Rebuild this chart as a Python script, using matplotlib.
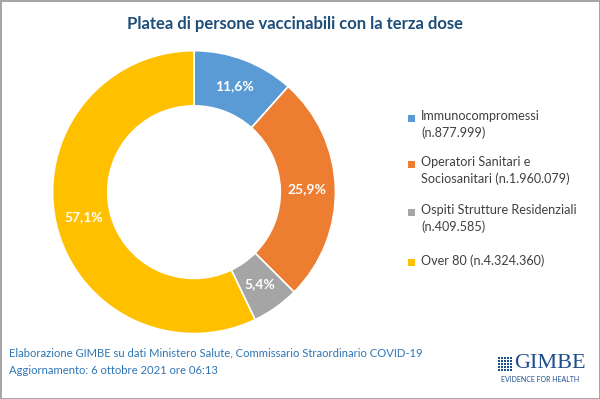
import matplotlib
matplotlib.use("Agg")
import matplotlib.pyplot as plt
from matplotlib.patches import Rectangle

plt.rcParams['font.family'] = ['Lato', 'DejaVu Sans']

# dati
categorie = ["Immunocompromessi\n(n.877.999)",
             "Operatori Sanitari e\nSociosanitari (n.1.960.079)",
             "Ospiti Strutture Residenziali\n(n.409.585)",
             "Over 80 (n.4.324.360)"]
valori = [877999, 1960079, 409585, 4324360]
colori = ["#5B9BD5", "#ED7D31", "#A5A5A5", "#FFC000"]

titolo = "Platea di persone vaccinabili con la terza dose"
nota1 = "Elaborazione GIMBE su dati Ministero Salute, Commissario Straordinario COVID-19"
nota2 = "Aggiornamento: 6 ottobre 2021 ore 06:13"

fig = plt.figure(figsize=(6, 3.99), dpi=100)
fig.patch.set_facecolor("white")
fig.patch.set_edgecolor("#A6A6A6")
fig.patch.set_linewidth(2)

ax = fig.add_axes([0.0875, 0.164, 0.4717, 0.709])

def fmt_pct(p):
    return ("%.1f%%" % p).replace(".", ",")

wedges, texts, autotexts = ax.pie(
    valori, colors=colori, startangle=90, counterclock=False,
    autopct=fmt_pct, pctdistance=0.80,
    wedgeprops=dict(width=0.39, edgecolor="white", linewidth=1.2),
    textprops=dict(color="white", fontsize=10, fontweight="bold"))
ax.set_xlim(-1, 1)
ax.set_ylim(-1, 1)
ax.set_aspect("equal")

# legenda a mano
leg_y = [118, 164, 212, 262]
for col, lab, y in zip(colori, categorie, leg_y):
    fig.patches.append(Rectangle((408 / 600, 1 - (y + 4) / 399), 7 / 600, 7 / 399,
                                 transform=fig.transFigure, facecolor=col,
                                 edgecolor="none"))
    fig.text(421 / 600, 1 - (y - 8) / 399, lab, fontsize=9.1, color="#404040",
             va="top", ha="left", linespacing=1.45)

fig.text(295 / 600, 1 - 24 / 399, titolo, fontsize=12, fontweight="bold",
         color="#1F4E79", ha="center", va="center")

fig.text(9 / 600, 1 - 353 / 399, nota1, fontsize=8.1, color="#2E75B6",
         ha="left", va="center")
fig.text(9 / 600, 1 - 371 / 399, nota2, fontsize=8.1, color="#2E75B6",
         ha="left", va="center")

# logo GIMBE
logo = "#1F4E8C"
for i in range(5):
    for j in range(5):
        fig.patches.append(Rectangle(((498 + i * 3) / 600, 1 - (357 + j * 3 + 2) / 399),
                                     2 / 600, 2 / 399, transform=fig.transFigure,
                                     facecolor=logo, edgecolor="none"))
fig.text(550 / 600, 1 - 364 / 399, "GIMBE", fontsize=16, color=logo,
         family="Liberation Serif", ha="center", va="center")
fig.text(540 / 600, 1 - 380 / 399, "EVIDENCE FOR HEALTH", fontsize=5, color=logo,
         ha="center", va="center")

fig.savefig("out.png", dpi=100)
